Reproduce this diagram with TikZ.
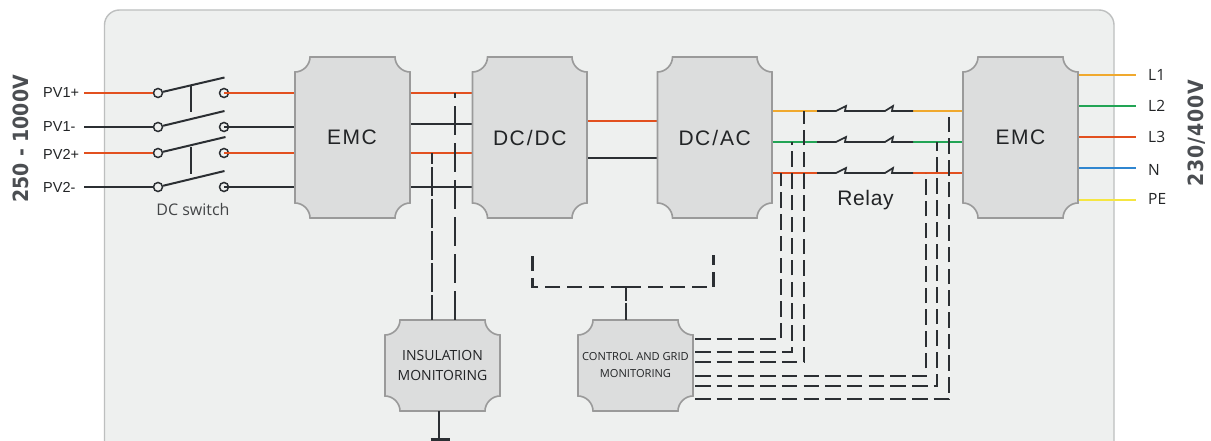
\documentclass[tikz,border=0pt]{standalone}
\usepackage{fontspec}
\setmainfont{Liberation Sans}
\newfontfamily\opensans{Open Sans}
\newfontfamily\lsp[LetterSpace=7]{Liberation Sans}
\newfontfamily\rlsp[LetterSpace=3]{Liberation Sans}
\newfontfamily\bigf{DejaVu Sans Condensed}
\newfontfamily\bigfs[LetterSpace=4]{DejaVu Sans Condensed}
\definecolor{wred}{HTML}{E2501F}
\definecolor{wamber}{HTML}{F0A92E}
\definecolor{wgreen}{HTML}{22A455}
\definecolor{wblue}{HTML}{2F86D0}
\definecolor{wyellow}{HTML}{F5E642}
\definecolor{wdark}{HTML}{2B2F33}
\definecolor{blockfill}{HTML}{DCDDDD}
\definecolor{blockline}{HTML}{9A9A9A}
\definecolor{panelfill}{HTML}{EEF0EF}
\definecolor{panelline}{HTML}{BDBFBF}
\definecolor{txt}{HTML}{222426}
\tikzset{
  wire/.style={line width=2.5pt,wdark},
  wr/.style={line width=2.7pt,wred},
  wa/.style={line width=2.7pt,wamber},
  wg/.style={line width=2.7pt,wgreen},
  wb/.style={line width=2.7pt,wblue},
  wy/.style={line width=2.7pt,wyellow},
  sig/.style={line width=2.4pt,wdark,dash pattern=on 15.5pt off 6.2pt},
  lever/.style={line width=2pt,wdark},
  relayline/.style={line width=1.7pt,wdark},
  term/.style={circle,draw=wdark,line width=1.5pt,fill=panelfill,minimum size=9pt,inner sep=0pt},
  lab/.style={font=\fontsize{14.5}{16}\selectfont,text=txt,inner sep=0pt,anchor=west},
  olab/.style={font=\opensans\fontsize{15.5}{16}\selectfont,text=txt,inner sep=0pt,anchor=west},
  bigrot/.style={text=wdark!85!white,rotate=90,inner sep=0pt},
  blocklab/.style={font=\lsp\fontsize{21}{24}\selectfont,text=txt},
}
% name, x1, y1, x2, y2, style, text
\newcommand{\blk}[7]{%
  \path[fill=blockfill,draw=blockline,line width=1.6pt]
    (#2,#3+15) .. controls (#2+8,#3+15) and (#2+15,#3+8) .. (#2+15,#3)
    -- (#4-15,#3) .. controls (#4-15,#3+8) and (#4-8,#3+15) .. (#4,#3+15)
    -- (#4,#5-15) .. controls (#4-8,#5-15) and (#4-15,#5-8) .. (#4-15,#5)
    -- (#2+15,#5) .. controls (#2+15,#5-8) and (#2+8,#5-15) .. (#2,#5-15)
    -- cycle;
  \node[#6,inner sep=0pt,align=center,minimum width={(#4-#2)*1pt},minimum height={(#5-#3)*1pt}] (#1)
    at ({(#2+#4)/2},{(#3+#5)/2}) {#7};
}
\begin{document}
\begin{tikzpicture}[x=1pt,y=-1pt]
\clip (0,0) rectangle (1211,441);
\fill[white] (0,0) rectangle (1211,441);
\draw[fill=panelfill,draw=panelline,line width=1.4pt,rounded corners=15pt] (104.5,10) rectangle (1114,480);

% switch terminals
\node[term] (a1) at (158,93) {};
\node[term] (a2) at (158,127) {};
\node[term] (a3) at (158,153) {};
\node[term] (a4) at (158,187) {};
\node[term] (b1) at (224,93) {};
\node[term] (b2) at (224,127) {};
\node[term] (b3) at (224,153) {};
\node[term] (b4) at (224,187) {};
% lever tips
\coordinate (t1) at (224.5,77.5);
\coordinate (t2) at (224.5,111);
\coordinate (t3) at (225.5,137);
\coordinate (t4) at (224.5,171);
\coordinate (m1) at (190.5,85);
\coordinate (m2) at (190.5,112);
\coordinate (m3) at (190.5,147);
\coordinate (m4) at (190.5,174);
\draw[lever] (a1) -- (t1);
\draw[lever] (a2) -- (t2);
\draw[lever] (a3) -- (t3);
\draw[lever] (a4) -- (t4);
\draw[lever] (m1) -- (m2);
\draw[lever] (m3) -- (m4);

% PV labels
\node[lab] (pv1p) at (43,93) {PV1+};
\node[lab] (pv1m) at (43,127) {PV1-};
\node[lab] (pv2p) at (43,154) {PV2+};
\node[lab] (pv2m) at (43,187.5) {PV2-};
\coordinate (s1) at (84,93);
\coordinate (s2) at (84,127);
\coordinate (s3) at (84,153);
\coordinate (s4) at (84,187);
\draw[wr] (s1) -- (a1);
\draw[wire] (s2) -- (a2);
\draw[wr] (s3) -- (a3);
\draw[wire] (s4) -- (a4);
\node[font=\opensans\fontsize{16}{18}\selectfont,text=txt!85!white,inner sep=0pt] (dcsw) at (193,209) {DC switch};

\coordinate (emcAw) at (295,0);
\coordinate (dcdcw) at (472.5,0);
\coordinate (dcacw) at (657.5,0);
\coordinate (emcBw) at (963,0);

% switch -> EMC
\draw[wr] (b1.center) -- (b1.center -| emcAw);
\draw[wire] (b2.center) -- (b2.center -| emcAw);
\draw[wr] (b3.center) -- (b3.center -| emcAw);
\draw[wire] (b4.center) -- (b4.center -| emcAw);

% EMC -> DC/DC
\coordinate (e1) at (410,93);
\coordinate (e2) at (410,124);
\coordinate (e3) at (410,153);
\coordinate (e4) at (410,187);
\draw[wr] (e1) -- (e1 -| dcdcw);
\draw[wire] (e2) -- (e2 -| dcdcw);
\draw[wr] (e3) -- (e3 -| dcdcw);
\draw[wire] (e4) -- (e4 -| dcdcw);

% DC/DC -> DC/AC
\coordinate (d1) at (587,121);
\coordinate (d2) at (587,158);
\draw[wr] (d1) -- (d1 -| dcacw);
\draw[wire] (d2) -- (d2 -| dcacw);

% DC/AC -> relay -> EMC
\coordinate (r1) at (772,111);
\coordinate (r2) at (772,142);
\coordinate (r3) at (772,173);
\foreach \n/\st in {r1/wa,r2/wg,r3/wr}{
  \draw[\st] (\n) -- (\n -| 817,0);
  \draw[\st] (\n -| 913,0) -- (\n -| emcBw);
  \draw[relayline] (\n -| 817,0) -- (\n -| 836,0) -- ++(10,-5) -- ++(-1,5) -- (\n -| 885,0) -- ++(8,-5) -- ++(-1,5) -- (\n -| 913,0);
}

% EMC -> mains
\coordinate (o1) at (1078,75);
\coordinate (o2) at (1078,106);
\coordinate (o3) at (1078,137);
\coordinate (o4) at (1078,168);
\coordinate (o5) at (1078,200);
\node[olab] (l1) at (1148,75) {L1};
\node[olab] (l2) at (1148,105.5) {L2};
\node[olab] (l3) at (1148,136.5) {L3};
\node[olab] (ln) at (1148,170) {N};
\node[olab] (lpe) at (1148,199) {PE};
\draw[wa] (o1) -- ++(58,0);
\draw[wg] (o2) -- ++(58,0);
\draw[wr] (o3) -- ++(58,0);
\draw[wb] (o4) -- ++(58,0);
\draw[wy] (o5) -- ++(58,0);

\node[bigrot,font=\bigf\bfseries\fontsize{21}{24}\selectfont] (vin) at (21,139) {250 - 1000V};
\node[bigrot,font=\bigfs\bfseries\fontsize{21}{24}\selectfont] (vout) at (1197,133) {230/400V};
\node[font=\rlsp\fontsize{21}{24}\selectfont,text=txt,inner sep=0pt] (relay) at (865.5,200) {Relay};

% blocks
\blk{emcA}{295}{57}{410}{218}{blocklab}{\kern-1pt EMC}
\blk{dcdc}{472.5}{57}{587}{218}{blocklab}{DC\kern2pt/\kern2pt DC}
\blk{dcac}{657.5}{57}{772}{218}{blocklab}{DC\kern2pt/\kern2pt AC}
\blk{emcB}{963}{57}{1078}{218}{blocklab}{EMC}
\blk{ins}{385}{320}{500}{411}{font=\opensans\fontsize{14}{20}\selectfont,text=txt}{INSULATION\\MONITORING}
\blk{ctl}{578}{320}{693}{411}{font=\opensans\fontsize{11.1}{17}\selectfont,text=txt}{CONTROL AND GRID\\MONITORING}

% insulation sensing
\coordinate (i1) at (432,153);
\coordinate (i2) at (455,93);
\draw[line width=2.2pt,wdark,dash pattern=on 29pt off 3pt,dash phase=4pt] (i1 |- ins.north) -- (i1);
\draw[line width=2.2pt,wdark,dash pattern=on 29pt off 8pt] (i2 |- ins.north) -- (i2);
% ground
\coordinate (g0) at (439,439.5);
\draw[lever] (g0 |- ins.south) -- (g0);
\draw[line width=2.4pt,wdark] ([xshift=-8.5pt]g0) -- ([xshift=10.5pt]g0);

% control bus
\coordinate (cb) at (626,287);
\coordinate (cl) at (532.5,287);
\coordinate (cr) at (713.5,287);
\draw[line width=2.4pt,wdark,dash pattern=on 15pt off 7pt] (cb) -- (cl) -- ++(0,-32);
\draw[line width=2.4pt,wdark,dash pattern=on 15pt off 7pt] (cb) -- (cr) -- ++(0,-32);
\draw[line width=2.4pt,wdark,dash pattern=on 17pt off 2pt] (cb |- ctl.north) -- (cb);

% control sensing
\draw[sig] (695,339) -- (781,339) -- (781,173);
\draw[sig] (695,352) -- (792,352) -- (792,142);
\draw[sig] (695,362) -- (804,362) -- (804,111);
\draw[sig] (695,376) -- (926,376) -- (926,173);
\draw[sig] (695,386) -- (937,386) -- (937,142);
\draw[sig] (695,399) -- (949,399) -- (949,111);
\end{tikzpicture}
\end{document}
